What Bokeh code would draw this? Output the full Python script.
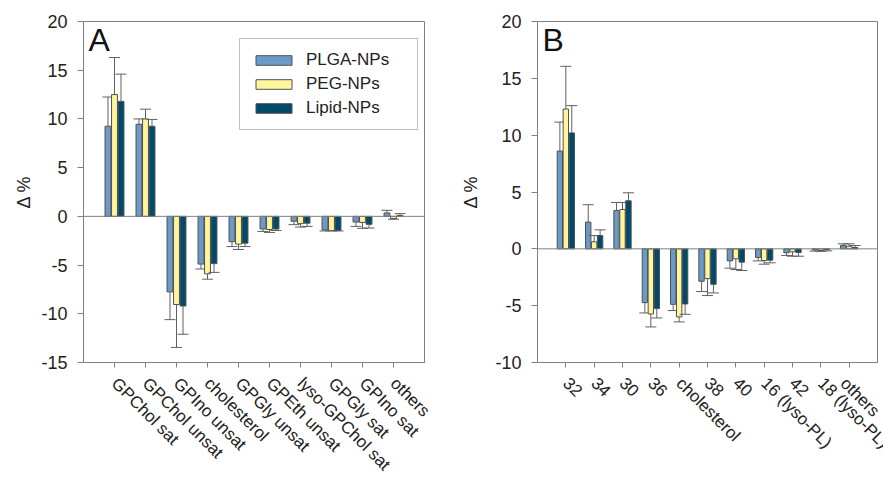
import math
from bokeh.plotting import figure
from bokeh.models import (ColumnDataSource, FactorRange, Span, Label, Legend,
                          LegendItem, FixedTicker)
from bokeh.transform import dodge
from bokeh.layouts import row
from bokeh.embed import file_html
from bokeh.resources import INLINE

# ---------------- data ----------------
series = ["PLGA-NPs", "PEG-NPs", "Lipid-NPs"]

cats_a = ["GPChol sat", "GPChol unsat", "GPIno unsat", "cholesterol", "GPGly unsat",
          "GPEth unsat", "lyso-GPChol sat", "GPGly sat", "GPIno sat", "others"]
plga_a = [9.25, 9.45, -7.75, -4.9, -2.6, -1.3, -0.5, -1.4, -0.58, 0.35]
peg_a = [12.5, 10.0, -9.05, -5.9, -2.85, -1.35, -0.75, -1.45, -0.62, -0.22]
lipid_a = [11.8, 9.25, -9.2, -4.85, -2.75, -1.3, -0.7, -1.45, -0.82, 0.1]
plga_a_err = [12.25, 10.0, -10.6, -5.4, -3.1, -1.55, -0.85, -1.5, -1.03, 0.62]
peg_a_err = [16.3, 11.0, -13.45, -6.45, -3.4, -1.65, -1.1, -1.5, -1.23, -0.3]
lipid_a_err = [14.6, 9.95, -12.1, -5.75, -3.1, -1.45, -1.03, -1.5, -1.2, 0.28]

cats_b = ["32", "34", "30", "36", "cholesterol", "38", "40", "16 (lyso-PL)", "42",
          "18 (lyso-PL)", "others"]
plga_b = [8.6, 2.35, 3.37, -4.73, -4.88, -2.85, -1.06, -0.77, -0.35, -0.1, 0.29]
peg_b = [12.3, 0.62, 3.46, -5.73, -5.99, -2.62, -0.88, -1.03, -0.26, -0.15, 0.23]
lipid_b = [10.2, 1.17, 4.23, -5.26, -4.85, -3.12, -1.17, -1.0, -0.33, -0.08, 0.12]
plga_b_err = [11.15, 3.88, 4.08, -5.64, -5.43, -3.76, -1.7, -1.06, -0.59, -0.2, 0.44]
peg_b_err = [16.06, 1.17, 4.08, -6.87, -6.43, -4.11, -1.82, -1.35, -0.65, -0.22, 0.44]
lipid_b_err = [12.6, 1.67, 4.93, -6.08, -5.76, -3.88, -1.91, -1.23, -0.65, -0.18, 0.29]

colors = ["#6b9ac8", "#fff59c", "#004a6a"]
offsets = [-0.21, 0.0, 0.21]

FONT = "Liberation Sans"
GREY = "#808080"
TXT = "#222222"


def make_panel(cats, vals, errs, yr, letter, width, border_left, border_right,
               range_padding, legend, label_standoff):
    p = figure(x_range=FactorRange(*cats, range_padding=range_padding),
               y_range=yr, width=width, height=488,
               min_border_left=border_left, min_border_right=border_right,
               min_border_top=21, min_border_bottom=126,
               output_backend="svg", toolbar_location=None, tools="")
    p.xgrid.visible = False
    p.ygrid.visible = False
    p.outline_line_color = GREY
    p.outline_line_width = 1
    p.background_fill_color = "white"
    p.border_fill_color = "white"

    p.add_layout(Span(location=0, dimension="width", line_color=GREY, line_width=1))

    renderers = []
    for s, v, e, c, off in zip(series, vals, errs, colors, offsets):
        src = ColumnDataSource(dict(cat=cats, v=v, e=e))
        r = p.vbar(x=dodge("cat", off, range=p.x_range), top="v", bottom=0, width=0.19,
                   source=src, fill_color=c, line_color="#505050", line_width=1)
        p.segment(x0=dodge("cat", off, range=p.x_range), y0="v",
                  x1=dodge("cat", off, range=p.x_range), y1="e", source=src,
                  line_color="#606060", line_width=1)
        p.scatter(x=dodge("cat", off, range=p.x_range), y="e", marker="dash", size=11,
                  source=src, line_color="#606060", line_width=1)
        renderers.append(r)

    # axes
    ticks = list(range(int(yr[0]), int(yr[1]) + 1, 5))
    p.yaxis.ticker = FixedTicker(ticks=ticks)
    p.yaxis.major_label_overrides = {t: str(t) for t in ticks}
    p.yaxis.axis_label = "Δ %"
    p.yaxis.axis_label_text_font = FONT
    p.yaxis.axis_label_text_font_style = "normal"
    p.yaxis.axis_label_text_font_size = "18px"
    p.yaxis.axis_label_text_color = TXT
    p.yaxis.axis_label_standoff = label_standoff
    for ax in (p.xaxis, p.yaxis):
        ax.axis_line_color = GREY
        ax.major_tick_line_color = GREY
        ax.minor_tick_line_color = None
        ax.major_tick_out = 6
        ax.major_tick_in = 0
        ax.major_label_text_font = FONT
        ax.major_label_text_font_size = "18px"
        ax.major_label_text_color = TXT
    p.yaxis.major_label_standoff = 10
    p.xaxis.major_tick_out = 5
    p.xaxis.major_label_text_font_size = "17px"
    p.xaxis.major_label_orientation = -math.pi / 4
    p.xaxis.major_label_standoff = 13

    p.add_layout(Label(x=5, y=yr[1], x_units="screen", y_units="data", y_offset=0,
                       text=letter, text_font=FONT, text_font_size="32px",
                       text_color="#111111", text_baseline="top"))

    if legend:
        items = [LegendItem(label=s, renderers=[r]) for s, r in zip(series, renderers)]
        lg = Legend(items=items, location=(156, 232), glyph_width=45, glyph_height=12,
                    label_text_font=FONT, label_text_font_size="17px",
                    label_text_color=TXT, label_height=20, label_width=100,
                    label_standoff=10, spacing=4, padding=11, margin=0,
                    border_line_color=GREY, border_line_width=1,
                    background_fill_alpha=1.0)
        p.add_layout(lg)
    return p


pa = make_panel(cats_a, [plga_a, peg_a, lipid_a], [plga_a_err, peg_a_err, lipid_a_err],
                (-15, 20), "A", 440, 83, 16, 0.1, True, 4)
pb = make_panel(cats_b, [plga_b, peg_b, lipid_b], [plga_b_err, peg_b_err, lipid_b_err],
                (-10, 20), "B", 443, 97, 6, 1.0 / 11, False, 11)

layout = row(pa, pb, spacing=0)
open("out.html", "w").write(file_html(layout, INLINE))
